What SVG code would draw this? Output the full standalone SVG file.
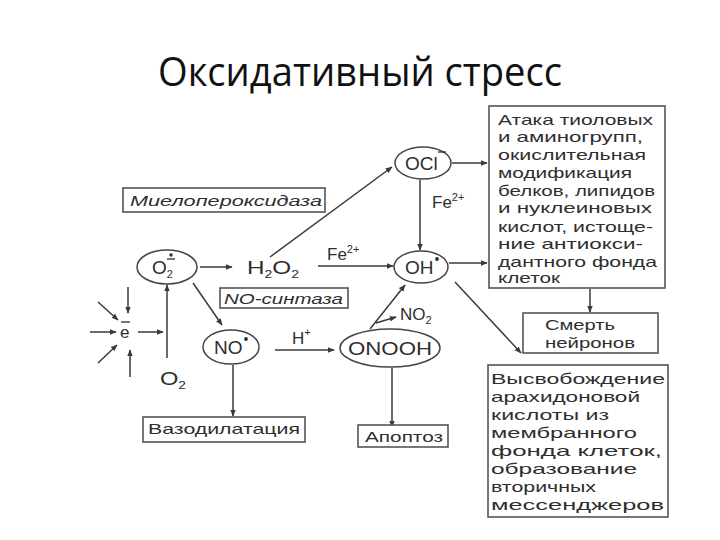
<svg xmlns="http://www.w3.org/2000/svg" width="720" height="540" viewBox="0 0 720 540">
<defs>
<marker id="ah" viewBox="0 0 10 10" refX="9" refY="5" markerWidth="7" markerHeight="7" orient="auto" markerUnits="userSpaceOnUse">
<path d="M0,1 L10,5 L0,9 Z" fill="#3a3a3a"/>
</marker>
<style>
.t{font-family:"Liberation Sans",Arial,sans-serif;font-size:15px;fill:#2e2e2e}
.lg{font-size:17px}
.xl{font-size:19px}
.it{font-style:italic}
.box{fill:#fff;stroke:#555;stroke-width:1.6}
.el{fill:#fff;stroke:#444;stroke-width:1.5}
.c line{stroke:#3a3a3a;stroke-width:1.5;marker-end:url(#ah)}
.sm{font-size:11px}
.mk{stroke:#2e2e2e;stroke-width:1.3}
</style>
</defs>
<rect width="720" height="540" fill="#fff"/>
<text x="360" y="86" text-anchor="middle" font-family="'Open Sans','Noto Sans',sans-serif" font-size="40" fill="#111" textLength="404" lengthAdjust="spacingAndGlyphs">Оксидативный стресс</text>

<g class="c" id="connectors">
<line x1="270" y1="257" x2="392" y2="167"/>
<line x1="452" y1="163" x2="487" y2="163"/>
<line x1="420" y1="180" x2="420" y2="250"/>
<line x1="200" y1="267" x2="232" y2="267"/>
<line x1="318" y1="266" x2="393" y2="266"/>
<line x1="449" y1="263" x2="487" y2="263"/>
<line x1="455" y1="282" x2="521" y2="353"/>
<line x1="590" y1="289" x2="590" y2="312"/>
<line x1="193" y1="283" x2="222" y2="325"/>
<line x1="167" y1="358" x2="167" y2="285"/>
<line x1="275" y1="350" x2="334" y2="350"/>
<line x1="370" y1="329" x2="405" y2="285"/>
<line x1="376" y1="323" x2="396" y2="317"/>
<line x1="233" y1="365" x2="233" y2="416"/>
<line x1="392" y1="368" x2="392" y2="427"/>
<line x1="90" y1="332" x2="116" y2="332"/>
<line x1="128" y1="287" x2="128" y2="313"/>
<line x1="98" y1="302" x2="118" y2="320"/>
<line x1="98" y1="363" x2="117" y2="345"/>
<line x1="130" y1="377" x2="130" y2="350"/>
<line x1="138" y1="332" x2="163" y2="332"/>
</g>

<g id="ocl">
<ellipse class="el" cx="423" cy="163" rx="28" ry="16"/>
<text class="t xl" x="405" y="170">OCl</text>
<line class="mk" x1="438" y1="152" x2="446" y2="152"/>
</g>
<g id="oh">
<ellipse class="el" cx="421" cy="267" rx="27" ry="16"/>
<text class="t xl" x="405" y="274">OH</text>
<circle cx="437" cy="259" r="1.9" fill="#2e2e2e"/>
</g>
<g id="o2rad">
<ellipse class="el" cx="167" cy="267" rx="30" ry="17"/>
<text class="t xl" x="152" y="274">O<tspan class="sm" dy="4">2</tspan></text>
<line class="mk" x1="167" y1="259" x2="175" y2="259"/>
<circle cx="171" cy="255" r="1.7" fill="#2e2e2e"/>
</g>
<g id="no">
<ellipse class="el" cx="231" cy="347" rx="28" ry="17"/>
<text class="t xl" x="214" y="354">NO</text>
<circle cx="246" cy="339" r="1.9" fill="#2e2e2e"/>
</g>
<g id="onooh">
<ellipse class="el" cx="390" cy="348" rx="50" ry="19"/>
<text class="t xl" x="390" y="355" text-anchor="middle" textLength="84" lengthAdjust="spacingAndGlyphs">ONOOH</text>
</g>
<g id="h2o2">
<text class="t xl" x="247" y="274" textLength="52" lengthAdjust="spacingAndGlyphs">H<tspan class="sm" dy="4">2</tspan><tspan dy="-4">O</tspan><tspan class="sm" dy="4">2</tspan></text>
</g>
<g id="fe1"><text class="t lg" x="432" y="208">Fe<tspan class="sm" dy="-7">2+</tspan></text></g>
<g id="fe2"><text class="t lg" x="327" y="260">Fe<tspan class="sm" dy="-7">2+</tspan></text></g>
<g id="hplus"><text class="t lg" x="292" y="344">H<tspan class="sm" dy="-8">+</tspan></text></g>
<g id="no2"><text class="t lg" x="400" y="320">NO<tspan class="sm" dy="4">2</tspan></text></g>
<g id="o2gas"><text class="t xl" x="160" y="385" textLength="26" lengthAdjust="spacingAndGlyphs">O<tspan class="sm" dy="4">2</tspan></text></g>
<g id="electron">
<text class="t lg" x="120" y="338">e</text>
<line class="mk" x1="121" y1="322" x2="130" y2="322"/>
</g>

<g id="myelo">
<rect class="box" x="123" y="188" width="202" height="24"/>
<text class="t it" x="130" y="206" textLength="192" lengthAdjust="spacingAndGlyphs">Миелопероксидаза</text>
</g>
<g id="nosynth">
<rect class="box" x="220" y="288" width="128" height="20"/>
<text class="t it" x="224" y="304" textLength="119" lengthAdjust="spacingAndGlyphs">NO-синтаза</text>
</g>
<g id="vaso">
<rect class="box" x="143" y="417" width="162" height="25"/>
<text class="t" x="148" y="434" textLength="152" lengthAdjust="spacingAndGlyphs">Вазодилатация</text>
</g>
<g id="apopt">
<rect class="box" x="358" y="425" width="90" height="22"/>
<text class="t" x="365" y="442" textLength="78" lengthAdjust="spacingAndGlyphs">Апоптоз</text>
</g>
<g id="attack">
<rect class="box" x="489" y="106" width="176" height="182"/>
<text class="t" x="498" y="125" textLength="155" lengthAdjust="spacingAndGlyphs">Атака тиоловых</text>
<text class="t" x="498" y="142" textLength="145" lengthAdjust="spacingAndGlyphs">и аминогрупп,</text>
<text class="t" x="498" y="160" textLength="148" lengthAdjust="spacingAndGlyphs">окислительная</text>
<text class="t" x="498" y="178" textLength="134" lengthAdjust="spacingAndGlyphs">модификация</text>
<text class="t" x="498" y="196" textLength="157" lengthAdjust="spacingAndGlyphs">белков, липидов</text>
<text class="t" x="498" y="213" textLength="154" lengthAdjust="spacingAndGlyphs">и нуклеиновых</text>
<text class="t" x="498" y="232" textLength="155" lengthAdjust="spacingAndGlyphs">кислот, истоще-</text>
<text class="t" x="498" y="249" textLength="145" lengthAdjust="spacingAndGlyphs">ние антиокси-</text>
<text class="t" x="498" y="267" textLength="159" lengthAdjust="spacingAndGlyphs">дантного фонда</text>
<text class="t" x="498" y="283" textLength="62" lengthAdjust="spacingAndGlyphs">клеток</text>
</g>
<g id="death">
<rect class="box" x="523" y="313" width="135" height="40"/>
<text class="t" x="545" y="330" textLength="70" lengthAdjust="spacingAndGlyphs">Смерть</text>
<text class="t" x="545" y="348" textLength="90" lengthAdjust="spacingAndGlyphs">нейронов</text>
</g>
<g id="release">
<rect class="box" x="488" y="365" width="180" height="152"/>
<text class="t" x="491" y="384" textLength="174" lengthAdjust="spacingAndGlyphs">Высвобождение</text>
<text class="t" x="491" y="402" textLength="149" lengthAdjust="spacingAndGlyphs">арахидоновой</text>
<text class="t" x="491" y="420" textLength="118" lengthAdjust="spacingAndGlyphs">кислоты из</text>
<text class="t" x="491" y="438" textLength="146" lengthAdjust="spacingAndGlyphs">мембранного</text>
<text class="t" x="491" y="456" textLength="171" lengthAdjust="spacingAndGlyphs">фонда  клеток,</text>
<text class="t" x="491" y="474" textLength="146" lengthAdjust="spacingAndGlyphs">образование</text>
<text class="t" x="491" y="492" textLength="105" lengthAdjust="spacingAndGlyphs">вторичных</text>
<text class="t" x="491" y="510" textLength="173" lengthAdjust="spacingAndGlyphs">мессенджеров</text>
</g>
</svg>
